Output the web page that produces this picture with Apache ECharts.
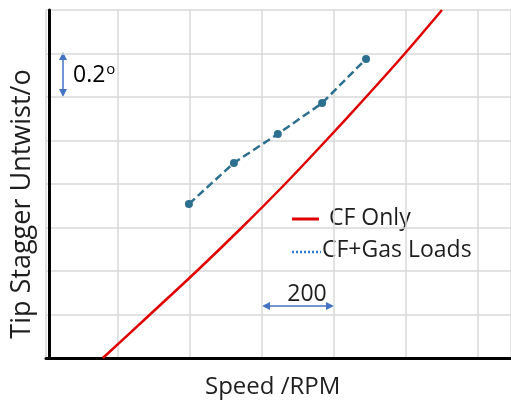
<!DOCTYPE html>
<html>
<head>
<meta charset="utf-8">
<script src="https://cdn.jsdelivr.net/npm/echarts@6/dist/echarts.min.js"></script>
<style>
html,body{margin:0;padding:0;background:#fff;}
#c{width:511px;height:402px;}
</style>
</head>
<body>
<div id="c"></div>
<script>
// Speed (RPM, relative) and tip stagger untwist (degrees, relative)
const cfOnlySpeed = [158, 289, 419, 544, 664, 778, 889, 997, 1100];
const cfOnlyUntwist = [0, 0.2, 0.4, 0.6, 0.8, 1.0, 1.2, 1.4, 1.6];
const cfGasSpeed = [397, 522, 644, 767, 889];
const cfGasUntwist = [0.708, 0.897, 1.030, 1.172, 1.375];
const seriesNames = ['CF Only', 'CF+Gas Loads'];
const xTitle = 'Speed /RPM';
const yTitle = 'Tip Stagger Untwist/o';

const FONT = '"Open Sans", "Noto Sans", sans-serif';
const TXT = '#1e1e1e';
const ANN = '#4472c4';

const chart = echarts.init(document.getElementById('c'), null, {renderer: 'canvas'});

function zip(a, b) { return a.map((v, i) => [v, b[i]]); }

chart.setOption({
  animation: false,
  backgroundColor: '#ffffff',
  grid: {left: 46, right: 0, top: 10, bottom: 44, containLabel: false},
  xAxis: {
    type: 'value', min: 0, max: 1291.7, interval: 200,
    axisLine: {show: true, lineStyle: {color: '#000', width: 3}},
    axisTick: {show: false}, axisLabel: {show: false},
    splitLine: {show: true, lineStyle: {color: '#d9d9d9', width: 1.5}}
  },
  yAxis: {
    type: 'value', min: 0, max: 1.6, interval: 0.2,
    offset: -3,
    axisLine: {show: true, onZero: false, lineStyle: {color: '#000', width: 3}},
    axisTick: {show: false}, axisLabel: {show: false},
    splitLine: {show: true, lineStyle: {color: '#d9d9d9', width: 1.5}}
  },
  series: [
    {
      name: seriesNames[0], type: 'line', data: zip(cfOnlySpeed, cfOnlyUntwist),
      smooth: 0.3, showSymbol: false, symbol: 'none', clip: true,
      lineStyle: {color: '#e00000', width: 2.5}
    },
    {
      name: seriesNames[1], type: 'line', data: zip(cfGasSpeed, cfGasUntwist),
      symbol: 'circle', symbolSize: 8, showSymbol: true,
      itemStyle: {color: '#2d6f8e'},
      lineStyle: {color: '#2d6f8e', width: 2.5, type: [8, 4]}
    }
  ],
  graphic: [
    // axis titles
    {type: 'text', x: 205, y: 387.5, style: {text: xTitle, font: '24px ' + FONT, fill: TXT, align: 'left', verticalAlign: 'middle'}},
    {type: 'text', x: 22, y: 204, rotation: Math.PI / 2, style: {text: yTitle, font: '27px ' + FONT, fill: TXT, align: 'center', verticalAlign: 'middle'}},
    // legend
    {type: 'line', shape: {x1: 292, y1: 219, x2: 319, y2: 219}, style: {stroke: '#e00000', lineWidth: 3}},
    {type: 'text', x: 329, y: 218, style: {text: seriesNames[0], font: '23px ' + FONT, fill: TXT, verticalAlign: 'middle'}},
    {type: 'line', shape: {x1: 292, y1: 252, x2: 321, y2: 252}, style: {stroke: '#2f80d0', lineWidth: 2.5, lineDash: [2, 2]}},
    {type: 'text', x: 322, y: 250.5, style: {text: seriesNames[1], font: '23px ' + FONT, fill: TXT, verticalAlign: 'middle'}},
    // 0.2 degree arrow
    {type: 'line', shape: {x1: 63, y1: 56, x2: 63, y2: 93}, style: {stroke: ANN, lineWidth: 1.5}},
    {type: 'polygon', shape: {points: [[63, 52], [59, 60], [67, 60]]}, style: {fill: ANN}},
    {type: 'polygon', shape: {points: [[63, 97], [59, 89], [67, 89]]}, style: {fill: ANN}},
    {type: 'text', x: 73, y: 75, style: {
      text: '{a|0.2}{b|o}', verticalAlign: 'middle',
      rich: {a: {fontFamily: FONT, fontSize: 23, color: TXT}, b: {fontFamily: FONT, fontSize: 15, color: TXT, padding: [0, 0, 10, 1]}}
    }},
    // 200 arrow
    {type: 'line', shape: {x1: 266, y1: 306, x2: 330, y2: 306}, style: {stroke: ANN, lineWidth: 1.5}},
    {type: 'polygon', shape: {points: [[262, 306], [270, 302], [270, 310]]}, style: {fill: ANN}},
    {type: 'polygon', shape: {points: [[334, 306], [326, 302], [326, 310]]}, style: {fill: ANN}},
    {type: 'text', x: 307, y: 294.5, style: {text: '200', font: '23px ' + FONT, fill: TXT, align: 'center', verticalAlign: 'middle'}}
  ]
});
</script>
</body>
</html>
